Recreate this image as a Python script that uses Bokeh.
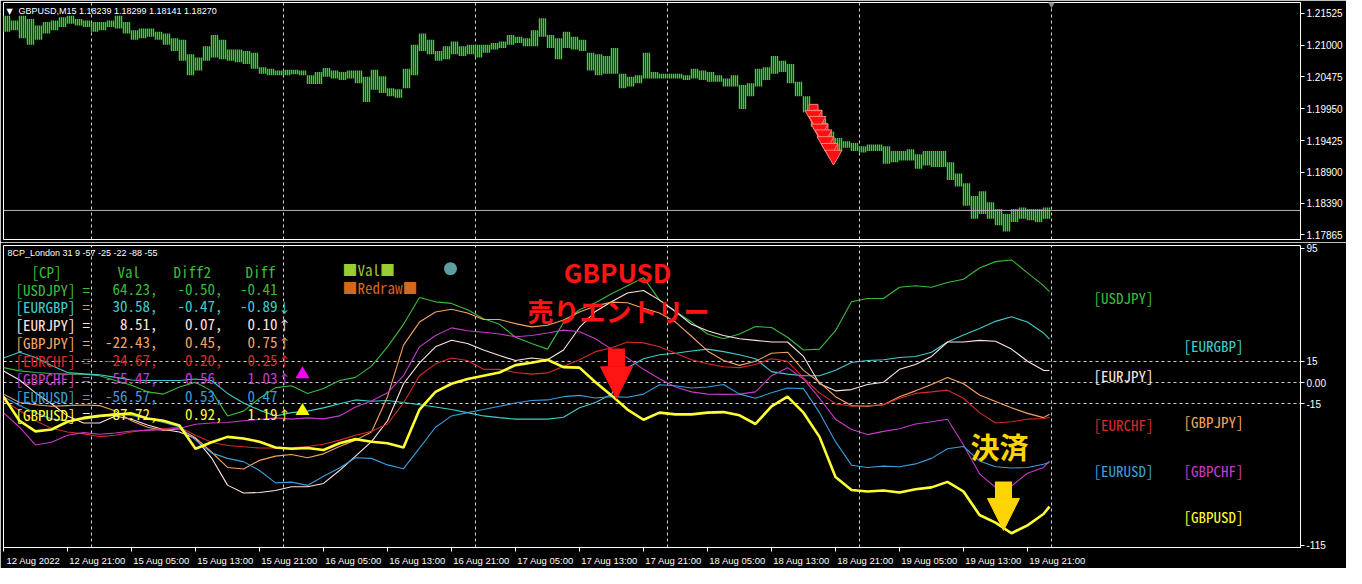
import numpy as np
from bokeh.plotting import figure
from bokeh.models import (Range1d, FixedTicker, Label, Arrow, NormalHead,
                          PrintfTickFormatter, ColumnDataSource)
from bokeh.layouts import column
from bokeh.embed import file_html
from bokeh.resources import INLINE

# ------------------------------------------------------------------ data
# GBPUSD M15, hourly high / low (hour 0 = 12 Aug 13:00), drawn at its four M15 slots
hour_hi = [1.21487, 1.21407, 1.21487, 1.21434, 1.21327, 1.21381, 1.21407, 1.21460, 1.21487, 1.21434,
           1.21407, 1.21381, 1.21381, 1.21407, 1.21487, 1.21381, 1.21248, 1.21274, 1.21274, 1.21221,
           1.21194, 1.21115, 1.21088, 1.20849, 1.20795, 1.20982, 1.21168, 1.21088, 1.20928, 1.20928,
           1.20902, 1.20875, 1.20636, 1.20609, 1.20583, 1.20593, 1.20593, 1.20583, 1.20503, 1.20556,
           1.20625, 1.20583, 1.20556, 1.20583, 1.20583, 1.20477, 1.20593, 1.20487, 1.20290, 1.20274,
           1.20609, 1.21008, 1.21194, 1.21088, 1.20902, 1.20982, 1.21061, 1.20982, 1.21008, 1.21008,
           1.21008, 1.21035, 1.21061, 1.21168, 1.21141, 1.21115, 1.21248, 1.21444, 1.21168, 1.21115,
           1.21221, 1.21141, 1.21088, 1.20875, 1.20849, 1.20822, 1.20955, 1.20529, 1.20477, 1.20503,
           1.20875, 1.20556, 1.20529, 1.20529, 1.20529, 1.20503, 1.20609, 1.20583, 1.20556, 1.20503,
           1.20450, 1.20503, 1.20343, 1.20370, 1.20609, 1.20636, 1.20822, 1.20742, 1.20689, 1.20397,
           1.20157, 1.19918, 1.19785, 1.19572, 1.19465, 1.19412, 1.19386, 1.19332, 1.19359, 1.19359,
           1.19332, 1.19252, 1.19252, 1.19279, 1.19199, 1.19252, 1.19252, 1.19252, 1.19067, 1.18880,
           1.18721, 1.18508, 1.18588, 1.18407, 1.18293, 1.18213, 1.18293, 1.18319, 1.18293, 1.18293,
           1.18319]
hour_lo = [1.21221, 1.21248, 1.21115, 1.21008, 1.21088, 1.21194, 1.21248, 1.21301, 1.21354, 1.21327,
           1.21301, 1.21221, 1.21248, 1.21301, 1.21274, 1.21194, 1.21088, 1.21115, 1.21141, 1.21088,
           1.21008, 1.20902, 1.20742, 1.20503, 1.20583, 1.20742, 1.20795, 1.20769, 1.20742, 1.20716,
           1.20689, 1.20609, 1.20529, 1.20503, 1.20503, 1.20503, 1.20519, 1.20503, 1.20359, 1.20359,
           1.20477, 1.20450, 1.20423, 1.20450, 1.20370, 1.20061, 1.20263, 1.20210, 1.20157, 1.20130,
           1.20290, 1.20503, 1.20902, 1.20849, 1.20742, 1.20769, 1.20849, 1.20822, 1.20849, 1.20795,
           1.20875, 1.20928, 1.20955, 1.21008, 1.21035, 1.20982, 1.20982, 1.21141, 1.20955, 1.20769,
           1.20955, 1.20928, 1.20902, 1.20583, 1.20503, 1.20529, 1.20529, 1.20290, 1.20317, 1.20370,
           1.20450, 1.20450, 1.20450, 1.20450, 1.20450, 1.20423, 1.20450, 1.20423, 1.20397, 1.20397,
           1.20317, 1.20317, 1.19944, 1.20157, 1.20317, 1.20423, 1.20529, 1.20556, 1.20370, 1.20157,
           1.19891, 1.19652, 1.19572, 1.19306, 1.19252, 1.19306, 1.19252, 1.19226, 1.19252, 1.19252,
           1.19040, 1.19067, 1.19093, 1.19093, 1.18960, 1.19013, 1.18987, 1.18987, 1.18774, 1.18667,
           1.18348, 1.18133, 1.18213, 1.18133, 1.18027, 1.17923, 1.18080, 1.18133, 1.18107, 1.18080,
           1.18133]
last_price = 1.18270
title_ohlc = ["1.18239", "1.18299", "1.18141", "1.18270"]
price_ticks = [1.21525, 1.21000, 1.20475, 1.19950, 1.19425, 1.18900, 1.18390, 1.17865]

# sell-signal arrows on the price chart (bar index, price)
sig_bars = [405, 407, 408, 410, 411, 413, 415]
sig_prices = [1.19838, 1.19742, 1.19615, 1.19519, 1.19407, 1.19295, 1.19183]

# indicator 8CP_London, sampled every 8 bars (2 h) + last bar
ind_bars = list(range(0, 521, 8)) + [523]
symbols = ["USDJPY", "EURGBP", "EURJPY", "GBPJPY", "EURCHF", "GBPCHF", "EURUSD", "GBPUSD"]
usdjpy = [10.5, 8.2, 7.1, 6.4, 5.9, 5.9, 4.8, 1.4, -2.0, -6.6,
          -8.2, -3.2, 0.2, -5.9, -23.6, -20.2, -11.1, -3.6, -2.3, -7.7,
          -4.3, 1.4, 3.6, 11.6, 25.2, 41.1, 60.0, 57.0, 55.9, 51.4,
          45.0, 41.1, 32.0, 27.5, 23.6, 42.3, 51.4, 56.4, 62.7, 68.4,
          74.1, 58.2, 50.2, 42.7, 34.3, 30.9, 34.3, 39.5, 38.9, 32.0,
          23.0, 23.6, 36.6, 57.0, 59.3, 59.3, 67.3, 68.4, 67.3, 70.7,
          72.9, 80.9, 85.4, 86.6, 77.5, 68.4, 64.23]
eurgbp = [17.3, 21.4, 17.7, 12.1, 7.1, 6.1, 5.5, 3.6, 1.8, 1.4,
          1.4, 1.4, 2.5, 1.4, -7.7, -14.5, -19.5, -23.6, -21.3, -20.2,
          -17.9, -15.0, -12.3, -13.2, -12.7, -14.1, -15.7, -17.3, -19.1, -21.3,
          -23.6, -24.8, -25.9, -25.9, -25.9, -24.5, -17.9, -14.1, -8.2, 10.5,
          16.8, 19.6, 20.7, 22.3, 23.6, 21.8, 19.6, 16.8, 7.7, 5.9,
          4.8, 4.8, 8.6, 14.1, 15.5, 16.1, 17.7, 18.4, 21.4, 28.6,
          33.6, 38.2, 43.2, 46.4, 42.7, 35.0, 30.58]
eurjpy = [8.2, 1.8, -7.3, -15.0, -23.6, -28.6, -28.6, -23.6, -25.9, -30.0,
          -33.2, -35.0, -39.5, -53.2, -72.5, -78.1, -77.7, -76.3, -73.6, -73.6,
          -71.3, -62.2, -52.0, -41.8, -27.0, -0.9, 13.9, 25.2, 29.8, 27.5,
          23.0, 19.1, 15.5, 17.3, 16.1, 23.0, 38.9, 50.2, 57.0, 63.2,
          65.0, 58.2, 50.2, 41.1, 36.6, 33.2, 30.9, 29.8, 28.6, 28.6,
          18.4, -0.9, -5.9, -5.0, -1.4, 0.2, 9.3, 12.7, 18.4, 28.6,
          28.6, 29.8, 29.1, 23.6, 15.0, 8.6, 8.51]
gbpjpy = [-8.2, -14.1, -15.7, -16.8, -16.3, -15.9, -16.3, -20.2, -27.0, -31.6,
          -33.8, -32.7, -39.1, -49.1, -60.0, -61.1, -55.0, -52.0, -50.9, -53.2,
          -50.4, -45.2, -40.7, -35.0, -10.0, 26.4, 42.7, 49.8, 51.8, 49.1,
          44.5, 44.5, 41.6, 39.3, 40.5, 44.1, 49.8, 54.1, 56.8, 56.4,
          52.5, 49.1, 42.7, 32.7, 22.3, 15.5, 12.1, 15.0, 20.7, 21.4,
          8.6, 0.2, -10.0, -16.3, -16.8, -15.7, -10.0, -5.9, -1.4, 3.6,
          -0.9, -8.8, -13.4, -17.9, -21.8, -24.8, -22.43]
eurchf = [-12.7, -19.8, -27.0, -32.3, -35.0, -36.3, -38.2, -37.3, -35.0, -33.4,
          -32.7, -31.6, -37.3, -42.2, -44.5, -45.4, -46.3, -46.3, -46.1, -45.2,
          -43.6, -40.7, -37.3, -34.5, -29.3, -14.5, 4.8, 13.2, 17.3, 15.5,
          9.3, 9.3, 7.1, 5.9, 6.8, 11.4, 16.1, 21.8, 24.6, 28.6,
          28.0, 25.2, 20.7, 16.1, 13.2, 11.1, 10.5, 12.7, 16.8, 15.0,
          3.2, -7.3, -15.0, -16.8, -16.3, -15.7, -11.1, -7.7, -6.6, -5.4,
          -11.1, -21.3, -28.6, -27.7, -25.9, -25.4, -24.67]
gbpchf = [-21.3, -31.6, -44.1, -42.2, -37.3, -35.4, -36.6, -35.7, -34.3, -33.8,
          -33.4, -32.3, -29.5, -28.6, -28.2, -27.0, -26.1, -25.0, -25.9, -25.0,
          -25.7, -23.6, -17.3, -13.0, -7.3, 4.8, 25.2, 33.2, 38.6, 36.6,
          35.5, 34.3, 32.3, 33.2, 35.0, 37.0, 35.9, 30.9, 23.6, 17.3,
          9.3, 2.7, -3.2, -6.6, -8.2, -8.4, -8.2, -6.6, 4.8, 10.5,
          2.5, -11.1, -25.9, -33.2, -36.8, -34.5, -32.7, -29.3, -27.7, -25.9,
          -44.1, -64.5, -74.1, -73.1, -64.1, -60.0, -55.47]
eurusd = [-10.0, -16.3, -21.3, -25.7, -27.0, -26.1, -24.1, -21.8, -23.2, -25.4,
          -28.2, -31.3, -40.7, -49.7, -53.6, -55.9, -62.2, -70.9, -70.4, -72.7,
          -66.3, -60.4, -53.2, -53.6, -58.2, -60.9, -46.3, -31.6, -23.6, -21.3,
          -19.1, -16.8, -14.5, -12.7, -12.3, -10.0, -9.1, -10.9, -10.0, -10.4,
          -8.2, -1.6, -2.3, -3.9, -3.2, -1.4, -8.2, -11.1, -7.3, -3.9,
          -4.3, -21.3, -41.8, -58.4, -60.0, -59.1, -59.5, -57.5, -53.6, -46.8,
          -45.2, -55.4, -59.5, -60.4, -60.0, -57.7, -56.57]
gbpusd = [-10.0, -27.0, -34.5, -33.2, -27.7, -25.0, -23.6, -22.7, -21.8, -25.4,
          -27.0, -30.4, -46.8, -42.2, -38.4, -39.5, -41.8, -45.9, -46.8, -46.3,
          -47.7, -42.9, -40.0, -41.8, -42.9, -45.9, -19.1, -6.6, -0.9, 2.5,
          4.8, 7.1, 12.3, 13.9, 16.1, 10.9, 10.5, 0.2, -9.1, -19.1,
          -26.3, -21.3, -22.5, -22.5, -21.3, -20.9, -23.2, -29.3, -16.8, -10.0,
          -21.3, -38.4, -66.8, -75.9, -77.0, -76.3, -77.7, -75.4, -74.1, -70.2,
          -77.0, -93.6, -99.0, -106.5, -100.9, -92.9, -87.72]
series = [usdjpy, eurgbp, eurjpy, gbpjpy, eurchf, gbpchf, eurusd, gbpusd]
val_now = [64.23, 30.58, 8.51, -22.43, -24.67, -55.47, -56.57, -87.72]
diff2_now = [-0.50, -0.47, 0.07, 0.45, 0.20, 0.56, 0.53, 0.92]
diff_now = [-0.41, -0.89, 0.10, 0.75, 0.25, 1.03, 0.47, 1.19]
diff_dir = ["", "↓", "↑", "↑", "↑", "↑", "", "↑"]
ind_title = "8CP_London 31 9 -57 -25 -22 -88 -55"
ind_levels = [15, 0, -15]
ind_ticks = [95, 15, 0, -15, -115]
ind_tick_labels = ["95", "15", "0.00", "-15", "-115"]

# trade annotations (bar, arrow top value, arrow tip value)
entry_arrow = (306.5, 24.0, -11.5)
exit_arrow = (500.0, -70.0, -104.5)

# time axis
xtick_bars = [0, 32, 64, 96, 128, 160, 192, 224, 256, 288, 320, 352, 384, 416, 448, 480, 512]
xtick_labels = ["12 Aug 2022", "12 Aug 21:00", "15 Aug 05:00", "15 Aug 13:00", "15 Aug 21:00",
                "16 Aug 05:00", "16 Aug 13:00", "16 Aug 21:00", "17 Aug 05:00", "17 Aug 13:00",
                "17 Aug 21:00", "18 Aug 05:00", "18 Aug 13:00", "18 Aug 21:00", "19 Aug 05:00",
                "19 Aug 13:00", "19 Aug 21:00"]
day_bars = [44, 140, 236, 332, 428, 524]

# ------------------------------------------------------------------ style
COLORS = ["#3cba3c", "#40cccc", "#ffe4e1", "#f4a460", "#d42a2a", "#c83ac8", "#3a9ddc", "#ffff33"]
BAR_GREEN = "#30d830"
GRID = "#d0d0d0"
MONO = "Noto Sans Mono CJK JP"
SANS = "Liberation Sans"
JP = "Noto Sans CJK JP"

W = 1346
RB = 46
FW = W - 3 - RB          # frame width in px
X0 = 0.0
X_END = X0 + FW / 2.0    # 2 px per M15 bar
xr = Range1d(X0, X_END)
TOP_FH = 237
YP = (1.17790, 1.21705)


# helpers mapping reference-pixel layout positions of overlay texts
def bx(px):
    return (px - 3) / 2.0


def iv(py):
    return (392 - py) / 1.467


def pv(py):
    return 1.21525 - (py - 14.3) * 0.0001596


def make_fig(height, yr, top_b, bot_b, with_xaxis):
    p = figure(width=W, height=height, x_range=xr, y_range=yr,
               output_backend="svg", toolbar_location=None,
               x_axis_location="below" if with_xaxis else None,
               y_axis_location="right",
               min_border_left=3, min_border_right=RB,
               min_border_top=top_b, min_border_bottom=bot_b,
               background_fill_color="black", border_fill_color="black",
               outline_line_color="white", outline_line_width=1)
    ax = p.yaxis[0]
    ax.axis_line_color = "white"
    ax.major_tick_line_color = "white"
    ax.major_tick_in = 0
    ax.major_tick_out = 4
    ax.minor_tick_line_color = None
    ax.major_label_text_color = "white"
    ax.major_label_text_font = SANS
    ax.major_label_text_font_size = "10px"
    ax.major_label_standoff = 2
    p.xgrid.ticker = FixedTicker(ticks=day_bars)
    p.xgrid.grid_line_color = GRID
    p.xgrid.grid_line_dash = "3 3"
    return p


def text(p, x, y, s, color, size, font, align="left", bold=False):
    p.add_layout(Label(x=x, y=y, text=s, text_color=color, text_font=font,
                       text_font_size=f"{size}px", text_align=align,
                       text_baseline="middle",
                       text_font_style="bold" if bold else "normal"))


# ------------------------------------------------------------------ price panel
top = make_fig(2 + TOP_FH + 3, Range1d(*YP), 2, 3, False)
top.ygrid.grid_line_color = None
top.yaxis[0].ticker = FixedTicker(ticks=price_ticks)
top.yaxis[0].formatter = PrintfTickFormatter(format="%.5f")

n_h = len(hour_hi)
bar_x = np.repeat(np.arange(n_h) * 4, 4) + np.tile(np.arange(4), n_h)
src = ColumnDataSource(dict(l=bar_x - 0.35, r=bar_x + 0.35,
                            hi=np.repeat(hour_hi, 4), lo=np.repeat(hour_lo, 4)))
top.quad(left="l", right="r", top="hi", bottom="lo", source=src,
         fill_color=BAR_GREEN, line_color=None)

top.line([X0, X_END], [last_price, last_price], line_color="#b4b4b4", line_width=1)

sig_p = np.array(sig_prices)
top.scatter(sig_bars, sig_p + 0.0011, marker="square", size=9,
            fill_color="#ff1010", line_color="#ff8080")
top.scatter(sig_bars, sig_p, marker="inverted_triangle", size=17,
            fill_color="#ff1010", line_color="#ff8080")

top.scatter([day_bars[-1]], [YP[1]], marker="inverted_triangle", size=10,
            fill_color="#8c8c8c", line_color=None)

text(top, bx(6), pv(12.5), "▼", "white", 8, "DejaVu Sans")
text(top, bx(18), pv(12), "GBPUSD,M15  " + " ".join(title_ohlc), "white", 9, SANS)

# ------------------------------------------------------------------ indicator panel
bot = make_fig(326, Range1d(iv(563), iv(250)), 3, 21, True)
bot.ygrid.ticker = FixedTicker(ticks=ind_levels)
bot.ygrid.grid_line_color = GRID
bot.ygrid.grid_line_dash = "3 3"
ya = bot.yaxis[0]
ya.ticker = FixedTicker(ticks=ind_ticks)
ya.major_label_overrides = {t: s for t, s in zip(ind_ticks, ind_tick_labels)}

xa = bot.xaxis[0]
xa.ticker = FixedTicker(ticks=[b + 15 for b in xtick_bars], minor_ticks=xtick_bars)
xa.major_label_overrides = {b + 15: s for b, s in zip(xtick_bars, xtick_labels)}
xa.major_tick_line_color = None
xa.major_tick_in = 0
xa.major_tick_out = 4
xa.minor_tick_line_color = "white"
xa.minor_tick_in = 0
xa.minor_tick_out = 4
xa.axis_line_color = "white"
xa.major_label_standoff = 3
xa.major_label_text_color = "white"
xa.major_label_text_font = SANS
xa.major_label_text_font_size = "9.5px"

for i, ys in enumerate(series):
    bot.line(ind_bars, ys, line_color=COLORS[i], line_width=2.6 if i == 7 else 1.1)

# table overlay
text(bot, bx(7), iv(258), ind_title, "white", 9, SANS)
HDR = "#3cba3c"
for s, xl in zip(["[CP]", "Val", "Diff2", "Diff"], [31, 117, 173, 245]):
    text(bot, bx(xl), iv(276.5), s, HDR, 15, MONO)
for i, sym in enumerate(symbols):
    yrow = iv(295.1 + 18.6 * i)
    c = COLORS[i]
    text(bot, bx(15), yrow, f"[{sym}]", c, 15, MONO)
    text(bot, bx(82), yrow, "=", c, 15, MONO)
    text(bot, bx(157), yrow, f"{val_now[i]:.2f},", c, 15, MONO, align="right")
    text(bot, bx(222), yrow, f"{diff2_now[i]:.2f},", c, 15, MONO, align="right")
    text(bot, bx(277), yrow, f"{diff_now[i]:.2f}", c, 15, MONO, align="right")
    if diff_dir[i]:
        text(bot, bx(284), yrow, diff_dir[i], c, 13, MONO, align="center")

text(bot, bx(342), iv(275), "■Val■", "#9acd32", 15, MONO)
text(bot, bx(342), iv(293.5), "■Redraw■", "#d2691e", 15, MONO)
bot.scatter([bx(450)], [iv(274)], marker="circle", size=13, fill_color="#5f9ea0", line_color=None)
bot.scatter([bx(302)], [iv(383.5)], marker="triangle", size=14, fill_color="#ff00ff", line_color=None)
bot.scatter([bx(302)], [iv(421.5)], marker="triangle", size=14, fill_color="#ffff00", line_color=None)

right_pos = [(1093, 304), (1183, 354), (1093, 385), (1183, 432),
             (1093, 436), (1183, 483), (1093, 483), (1183, 531)]
for i, sym in enumerate(symbols):
    xl, yl = right_pos[i]
    text(bot, bx(xl), iv(yl), f"[{sym}]", COLORS[i], 15, MONO)

# trade annotations
RED = "#ff1414"
GOLD = "#ffd400"
text(bot, bx(617), iv(277), "GBPUSD", RED, 26, JP, align="center", bold=True)
text(bot, bx(618), iv(317.5), "売りエントリー", RED, 26, JP, align="center", bold=True)
text(bot, bx(999), iv(458), "決済", GOLD, 29, JP, align="center", bold=True)
for (b, y0, y1), col in [(entry_arrow, RED), (exit_arrow, GOLD)]:
    bot.add_layout(Arrow(x_start=b, y_start=y0, x_end=b, y_end=y1,
                         line_color=col, line_width=17,
                         end=NormalHead(size=32, fill_color=col, line_color=col, line_width=1)))

layout = column(top, bot, spacing=0)
open("out.html", "w").write(file_html(layout, INLINE))
